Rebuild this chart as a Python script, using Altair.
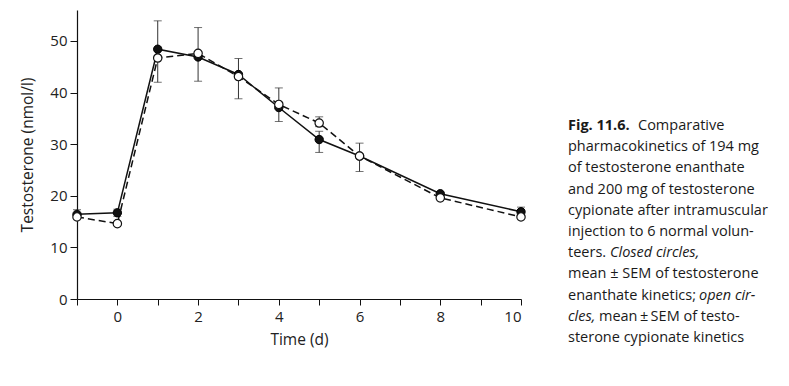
import altair as alt
import pandas as pd

# Data
time = [-1, 0, 1, 2, 3, 4, 5, 6, 8, 10]
enanthate = [16.4, 16.7, 48.4, 46.9, 43.5, 37.1, 30.9, 27.7, 20.4, 16.9]
cypionate = [15.9, 14.6, 46.7, 47.6, 43.1, 37.7, 34.1, 27.7, 19.6, 15.9]

# Error bars (mean ± SEM) as drawn in the figure
err_time = [-1, 0, 1, 2, 3, 4, 5, 5, 6, 10]
err_lo = [15.6, 16.0, 42.0, 42.2, 38.8, 34.4, 28.4, 33.4, 24.7, 16.2]
err_hi = [17.3, 17.4, 53.9, 52.6, 46.6, 40.9, 32.5, 35.3, 30.2, 17.8]

x_ticks = list(range(-1, 11))
y_ticks = [0, 10, 20, 30, 40, 50]

caption_lines = [
    [("Fig. 11.6.", "bold", 0), ("Comparative", "normal", 70)],
    [("pharmacokinetics of 194 mg", "normal", 0)],
    [("of testosterone enanthate", "normal", 0)],
    [("and 200 mg of testosterone", "normal", 0)],
    [("cypionate after intramuscular", "normal", 0)],
    [("injection to 6 normal volun-", "normal", 0)],
    [("teers.", "normal", 0), ("Closed circles,", "italic", 42)],
    [("mean \u00b1 SEM of testosterone", "normal", 0)],
    [("enanthate kinetics;", "normal", 0), ("open cir-", "italic", 131)],
    [("cles,", "italic", 0), ("mean\u2009\u00b1\u2009SEM of testo-", "normal", 31)],
    [("sterone cypionate kinetics", "normal", 0)],
]

FONT = "Open Sans"

rows = []
for t, e, c in zip(time, enanthate, cypionate):
    rows.append(dict(t=t, v=e, s="enanthate"))
    rows.append(dict(t=t, v=c, s="cypionate"))
df = pd.DataFrame(rows)
edf = pd.DataFrame(dict(t=err_time, lo=err_lo, hi=err_hi))

cap_rows = []
for i, line in enumerate(caption_lines):
    for text, style, off in line:
        cap_rows.append(dict(px=491 + off, py=116 + i * 21.2, text=text, style=style))
cap = pd.DataFrame(cap_rows)

xs = alt.Scale(domain=[-1, 10], nice=False, zero=False)
ys = alt.Scale(domain=[0, 56], nice=False)

X = alt.X("t:Q", scale=xs, axis=alt.Axis(
    values=x_ticks, labelExpr="datum.value % 2 == 0 ? datum.label : ''",
    title="Time (d)", grid=False, tickSize=6, labelPadding=4, titlePadding=8))
Y = alt.Y("v:Q", scale=ys, axis=alt.Axis(
    values=y_ticks, title="Testosterone (nmol/l)", grid=False, tickSize=7,
    labelPadding=3, titlePadding=14))

base = alt.Chart(df)
ebase = alt.Chart(edf)

line_e = base.transform_filter("datum.s == 'enanthate'").mark_line(
    color="#111", strokeWidth=1.5).encode(x=X, y=Y)
line_c = base.transform_filter("datum.s == 'cypionate'").mark_line(
    color="#111", strokeWidth=1.5, strokeDash=[7, 4]).encode(x=X, y=Y)

err = ebase.mark_rule(color="#333", strokeWidth=1).encode(
    x=X, y=alt.Y("lo:Q", scale=ys), y2="hi:Q")
cap_lo = ebase.mark_tick(color="#333", orient="horizontal", size=8, thickness=1).encode(
    x=X, y=alt.Y("lo:Q", scale=ys))
cap_hi = ebase.mark_tick(color="#333", orient="horizontal", size=8, thickness=1).encode(
    x=X, y=alt.Y("hi:Q", scale=ys))

pts_e = base.transform_filter("datum.s == 'enanthate'").mark_point(
    shape="circle", filled=True, size=70, color="#111", opacity=1,
    stroke="#000", strokeWidth=1).encode(x=X, y=Y)
pts_c = base.transform_filter("datum.s == 'cypionate'").mark_point(
    shape="circle", filled=True, size=70, fill="white", opacity=1,
    stroke="#111", strokeWidth=1.2).encode(x=X, y=Y)

def cap_layer(style):
    kw = dict(fontWeight="bold") if style == "bold" else (dict(fontStyle="italic") if style == "italic" else {})
    return alt.Chart(cap).transform_filter(f"datum.style == '{style}'").mark_text(
        align="left", baseline="middle", font=FONT, fontSize=14.5, color="#1a1a1a", **kw
    ).encode(x=alt.X("px:Q", scale=None), y=alt.Y("py:Q", scale=None), text="text:N")

chart = alt.layer(
    line_e, line_c, err, cap_lo, cap_hi, pts_e, pts_c,
    cap_layer("normal"), cap_layer("bold"), cap_layer("italic")
).properties(
    width=444, height=289,
    background="white",
    autosize=alt.AutoSizeParams(type="none"),
    padding={"left": 69, "top": 2, "right": 260, "bottom": 79},
).configure_view(stroke=None).configure_axis(
    domainColor="#111", tickColor="#111", labelColor="#222", titleColor="#222",
    labelFont=FONT, titleFont=FONT, labelFontSize=15, titleFontSize=15.5,
    titleFontWeight="normal", domainWidth=1.2, tickWidth=1,
)

chart.save("out.html", embed_options={"renderer": "svg", "actions": False})
